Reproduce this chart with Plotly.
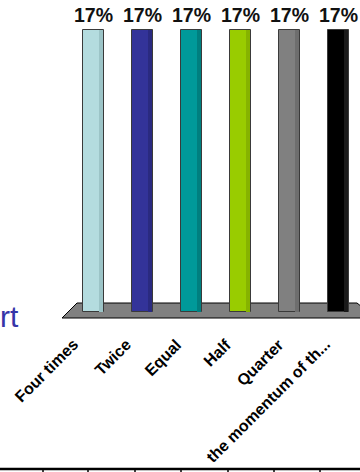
import plotly.graph_objects as go

categories = ["Four times", "Twice", "Equal", "Half", "Quarter", "the momentum of th..."]
values = [17, 17, 17, 17, 17, 17]
value_labels = ["17%", "17%", "17%", "17%", "17%", "17%"]
colors = ["#b4dcdf", "#333399", "#009999", "#99cc00", "#808080", "#000000"]
shade_colors = ["#9cc4c7", "#2a2a80", "#007f7f", "#86b300", "#6e6e6e", "#1a1a1a"]

W, H = 360, 472
PLOT_H = 320  # plot area height in px (margin bottom = H - PLOT_H)
FONT = "Liberation Sans, Arial, sans-serif"

def px_x(px):
    return px / W

def px_y(py):
    return (PLOT_H - py) / PLOT_H

xs = list(range(len(categories)))

fig = go.Figure()
fig.add_trace(go.Bar(
    x=xs, y=values, width=0.41,
    marker=dict(color=colors, line=dict(color="#3a3a3a", width=1)),
    hoverinfo="skip", showlegend=False,
))
# darker strip on the right side for a slight cylinder look
fig.add_trace(go.Bar(
    x=xs, y=values, width=0.08, offset=0.11,
    marker=dict(color=shade_colors, line=dict(width=0)),
    hoverinfo="skip", showlegend=False,
))

label_shift = [-9, -6, -4, -3, 0, -2]

annotations = []
for i, (cat, lab) in enumerate(zip(categories, value_labels)):
    annotations.append(dict(
        x=i, y=values[i], xref="x", yref="y", text=f"<b>{lab}</b>",
        showarrow=False, xanchor="center", yanchor="bottom", yshift=2,
        font=dict(family=FONT, size=19.5, color="#111111"),
    ))
    annotations.append(dict(
        x=i, y=px_y(333), xref="x", yref="paper", text=f"<b>{cat}</b>",
        showarrow=False, xanchor="right", yanchor="top", xshift=label_shift[i],
        textangle=-45, font=dict(family=FONT, size=16, color="#000000"),
    ))

# partial title text at left edge
annotations.append(dict(
    x=px_x(21), y=px_y(316), xref="paper", yref="paper", text="rt",
    showarrow=False, xanchor="right", yanchor="middle",
    font=dict(family=FONT, size=30, color="#3535a8"),
))

shapes = []
# floor
floor_pts = [(62, 318), (77, 303), (357, 303), (362, 307), (362, 318)]
path = "M " + " L ".join(f"{px_x(a)},{px_y(b)}" for a, b in floor_pts) + " Z"
shapes.append(dict(type="path", path=path, xref="paper", yref="paper",
                   fillcolor="#808080", line=dict(color="#000000", width=1), layer="below"))
# table edge at bottom
shapes.append(dict(type="line", x0=0, x1=1, y0=px_y(469), y1=px_y(469), xref="paper", yref="paper",
                   line=dict(color="#000000", width=2.5)))
for tx in [43, 88, 135, 181, 228, 274, 320]:
    shapes.append(dict(type="line", x0=px_x(tx), x1=px_x(tx), y0=px_y(469), y1=px_y(473),
                       xref="paper", yref="paper", line=dict(color="#000000", width=1.5)))

fig.update_layout(
    width=W, height=H,
    margin=dict(l=0, r=0, t=0, b=H - PLOT_H, pad=0),
    paper_bgcolor="#ffffff", plot_bgcolor="rgba(0,0,0,0)",
    xaxis=dict(range=[-1.908, 5.439], visible=False, fixedrange=True),
    yaxis=dict(range=[-0.482, 18.809], visible=False, fixedrange=True),
    annotations=annotations, shapes=shapes,
    barmode="overlay", bargap=0,
)

fig.write_html(
    "out.html",
    config={"displayModeBar": False},
    post_script="document.body.style.margin='0';document.body.style.padding='0';document.body.style.overflow='hidden';",
)
